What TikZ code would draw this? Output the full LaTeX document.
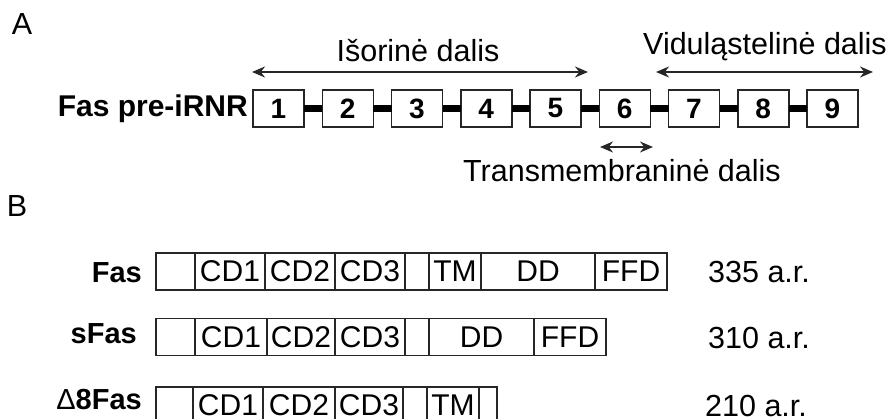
\documentclass[tikz,border=0pt]{standalone}
\usepackage{fontspec}
\setmainfont{Liberation Sans}
\usetikzlibrary{arrows.meta}
\begin{document}
\begin{tikzpicture}[x=1pt,y=1pt,
  exon/.style={draw=black!85, line width=1.5pt, minimum width=51pt, minimum height=37pt, inner sep=0pt, outer sep=0pt, font=\fontsize{28}{28}\selectfont\bfseries},
  seg/.style={draw=black!85, line width=1.5pt, minimum height=37pt, inner sep=0pt, outer sep=0pt, anchor=west, font=\fontsize{30}{30}\selectfont},
  txt/.style={inner sep=0pt, font=\fontsize{30.5}{30.5}\selectfont},
  btxt/.style={inner sep=0pt, font=\fontsize{29}{29}\selectfont\bfseries},
  link/.style={draw=black, line width=6.5pt},
  dbl/.style={draw=black!85, line width=1.8pt, {Stealth[length=13pt,width=11pt]}-{Stealth[length=13pt,width=11pt]}}
]
\useasboundingbox (0,0) rectangle (890,-419);

% Panel A
\node[txt, anchor=base] (A) at (22,-35) {A};
\node[btxt, font=\fontsize{30}{30}\selectfont\bfseries, anchor=base east] (pre) at (248,-117) {Fas pre-iRNR};
\foreach \i in {1,...,9} {
  \node[exon] (e\i) at ({278.5+69.25*(\i-1)},-108.5) {\i};
}
\foreach \i/\j in {1/2,2/3,3/4,4/5,5/6,6/7,7/8,8/9} {
  \draw[link] (e\i.east) -- (e\j.west);
}
\coordinate (isL) at (252,-72);
\coordinate (isR) at (588,-72);
\draw[dbl] (isL) -- (isR);
\node[txt, anchor=base] (is) at (418,-62) {Išorinė dalis};
\coordinate (viL) at (656,-72);
\coordinate (viR) at (873,-72);
\draw[dbl] (viL) -- (viR);
\node[txt, anchor=base] (vi) at (765,-55) {Viduląstelinė dalis};
\coordinate (tmL) at (600,-147);
\coordinate (tmR) at (653,-147);
\draw[dbl] (tmL) -- (tmR);
\node[txt, anchor=base] (tm) at (622,-182) {Transmembraninė dalis};

% Panel B
\node[txt, anchor=base] (B) at (17,-217) {B};

% Fas
\node[btxt, anchor=base east] (lfas) at (142,-282) {Fas};
\node[seg, minimum width=39pt] (f1) at (156,-271.5) {};
\node[seg, minimum width=70pt] (f2) at (f1.east) {CD1};
\node[seg, minimum width=70pt] (f3) at (f2.east) {CD2};
\node[seg, minimum width=70pt] (f4) at (f3.east) {CD3};
\node[seg, minimum width=24pt] (f5) at (f4.east) {};
\node[seg, minimum width=52pt] (f6) at (f5.east) {TM};
\node[seg, minimum width=114pt] (f7) at (f6.east) {DD};
\node[seg, minimum width=72pt] (f8) at (f7.east) {FFD};
\node[txt, anchor=base west] (afas) at (708,-282.5) {335 a.r.};

% sFas
\node[btxt, anchor=base east] (lsfas) at (137,-343) {sFas};
\node[seg, minimum width=39pt] (s1) at (156,-337) {};
\node[seg, minimum width=72pt] (s2) at (s1.east) {CD1};
\node[seg, minimum width=68pt] (s3) at (s2.east) {CD2};
\node[seg, minimum width=70pt] (s4) at (s3.east) {CD3};
\node[seg, minimum width=24pt] (s5) at (s4.east) {};
\node[seg, minimum width=105pt] (s6) at (s5.east) {DD};
\node[seg, minimum width=72pt] (s7) at (s6.east) {FFD};
\node[txt, anchor=base west] (asfas) at (708,-348) {310 a.r.};

% Delta8Fas
\node[btxt, anchor=base east] (ldfas) at (142,-409) {{\mdseries Δ}8Fas};
\node[seg, minimum width=37pt] (d1) at (156,-405.5) {};
\node[seg, minimum width=70pt] (d2) at (d1.east) {CD1};
\node[seg, minimum width=72pt] (d3) at (d2.east) {CD2};
\node[seg, minimum width=68pt] (d4) at (d3.east) {CD3};
\node[seg, minimum width=24pt] (d5) at (d4.east) {};
\node[seg, minimum width=52pt] (d6) at (d5.east) {TM};
\node[seg, minimum width=18pt] (d7) at (d6.east) {};
\node[txt, anchor=base west] (adfas) at (705,-416) {210 a.r.};
\end{tikzpicture}
\end{document}
